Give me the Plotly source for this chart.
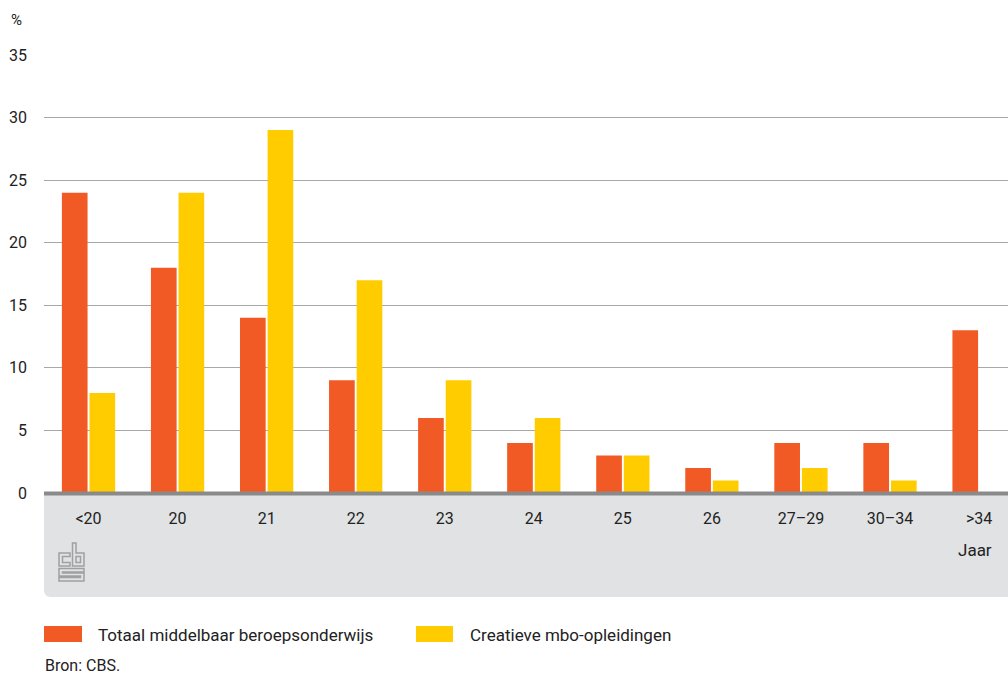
import plotly.graph_objects as go

categories = ["<20", "20", "21", "22", "23", "24", "25", "26", "27–29", "30–34", ">34"]
totaal_mbo = [24, 18, 14, 9, 6, 4, 3, 2, 4, 4, 13]
creatief_mbo = [8, 24, 29, 17, 9, 6, 3, 1, 2, 1, None]
series_names = ["Totaal middelbaar beroepsonderwijs", "Creatieve mbo-opleidingen"]
y_ticks = [0, 5, 10, 15, 20, 25, 30, 35]

ORANGE = "#f15a24"
YELLOW = "#ffcc00"
FONT = "Roboto"
TXT = "#222222"

W, H = 1008, 675
L, R, T, B = 44, 0, 55, 182
PW, PH = W - L - R, H - T - B


def px(x):
    return (x - L) / PW


def py(y):
    return (H - B - y) / PH


fig = go.Figure()
fig.add_trace(go.Bar(x=categories, y=totaal_mbo, name=series_names[0],
                     marker=dict(color=ORANGE, line=dict(width=0))))
fig.add_trace(go.Bar(x=categories, y=creatief_mbo, name=series_names[1],
                     marker=dict(color=YELLOW, line=dict(width=0))))

shapes = []
# grey panel under the axis, rounded bottom-left corner
x0, x1 = px(44), px(1030)
y0, y1 = py(495), py(597)
rx, ry = 7 / PW, 7 / PH
shapes.append(dict(type="path", xref="paper", yref="paper", layer="below",
                   path=f"M {x0},{y0} L {x1},{y0} L {x1},{y1} L {x0+rx},{y1} "
                        f"Q {x0},{y1} {x0},{y1+ry} Z",
                   fillcolor="#e1e2e4", line=dict(width=0)))
# axis base line
shapes.append(dict(type="line", xref="paper", yref="paper", x0=0, x1=1.05,
                   y0=py(493.5), y1=py(493.5), line=dict(color="#8a8a8a", width=4)))


def poly(points, closed=True):
    s = "M " + " L ".join(f"{px(a)},{py(b)}" for a, b in points)
    return s + (" Z" if closed else "")


logo_col = "#a0a0a0"
logo_paths = [
    # c
    [(70, 553), (59, 553), (59, 566), (70, 566), (70, 562.5), (62.5, 562.5),
     (62.5, 556.5), (70, 556.5)],
    # b outer
    [(72.5, 543), (76, 543), (76, 553), (84, 553), (84, 566), (72.5, 566)],
    # b inner box
    [(76, 556.5), (80.5, 556.5), (80.5, 562.5), (76, 562.5)],
    # s
    [(84, 568.5), (59, 568.5), (59, 576), (80.5, 576), (80.5, 577.5), (59, 577.5),
     (59, 581), (84, 581), (84, 573), (62.5, 573), (62.5, 572), (84, 572)],
]
for p in logo_paths:
    shapes.append(dict(type="path", xref="paper", yref="paper", path=poly(p),
                       line=dict(color=logo_col, width=1.5), fillcolor="rgba(0,0,0,0)"))

# legend boxes
shapes.append(dict(type="rect", xref="paper", yref="paper", x0=px(44), x1=px(82),
                   y0=py(626), y1=py(642), fillcolor=ORANGE, line=dict(width=0)))
shapes.append(dict(type="rect", xref="paper", yref="paper", x0=px(416), x1=px(453),
                   y0=py(626), y1=py(642), fillcolor=YELLOW, line=dict(width=0)))

annotations = [
    dict(text="%", x=px(9), y=py(20), xanchor="left", yanchor="middle", size=15),
    dict(text="Jaar", x=px(994), y=py(550), xanchor="right", yanchor="middle", size=17),
    dict(text=series_names[0], x=px(96), y=py(635), xanchor="left", yanchor="middle", size=17),
    dict(text=series_names[1], x=px(468), y=py(635), xanchor="left", yanchor="middle", size=17),
    dict(text="Bron: CBS.", x=px(43), y=py(665), xanchor="left", yanchor="middle", size=16),
]
for a in annotations:
    sz = a.pop("size")
    a.update(xref="paper", yref="paper", showarrow=False,
             font=dict(family=FONT, size=sz, color=TXT))

fig.update_layout(
    width=W, height=H,
    margin=dict(l=L, r=R, t=T, b=B, pad=0),
    paper_bgcolor="white", plot_bgcolor="white",
    barmode="group", bargap=0.38, bargroupgap=0.07,
    showlegend=False,
    shapes=shapes, annotations=annotations,
    font=dict(family=FONT, size=16, color=TXT),
    xaxis=dict(range=[-0.5, 10.325], showgrid=False, showline=False, zeroline=False,
               ticks="", ticklabelstandoff=14, tickfont=dict(family=FONT, size=16, color=TXT),
               fixedrange=True),
    yaxis=dict(range=[0, 35], tickvals=y_ticks, showgrid=True, gridcolor="#a8a8a8",
               gridwidth=1, zeroline=False, showline=False, ticks="",
               ticklabelstandoff=16, tickfont=dict(family=FONT, size=16, color=TXT),
               fixedrange=True),
)

fig.write_html("out.html", config={"displayModeBar": False},
               post_script="document.body.style.margin='0';document.body.style.overflow='hidden';")
